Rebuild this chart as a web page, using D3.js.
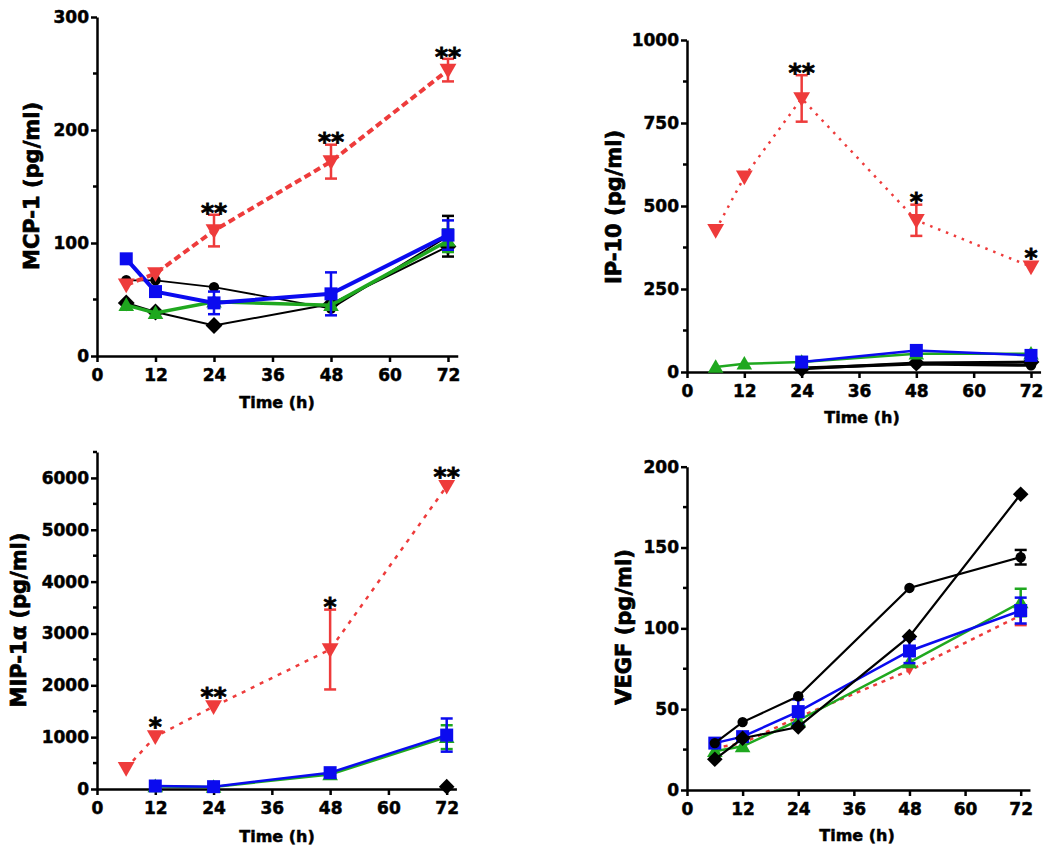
<!DOCTYPE html>
<html><head><meta charset="utf-8">
<script src="https://cdn.jsdelivr.net/npm/d3@7"></script>
<style>
body{margin:0;background:#fff;}
text{font-family:"DejaVu Sans",sans-serif;font-weight:bold;fill:#000;}
</style></head>
<body><svg id="c" width="1050" height="852"></svg>
<script>
const times = [6, 12, 24, 48, 72];
const xTicks = [0, 12, 24, 36, 48, 60, 72];

// MCP-1
const mcpRed = [63, 73, 111, 172, 253];
const mcpRedErr = [0, 0, 14, 15, 10];
const mcpRedStars = ["", "", "**", "**", "**"];
const mcpBlue = [86, 57, 47, 55, 107];
const mcpBlueErr = [0, 0, 10, 19, 13];
const mcpGreen = [45, 38, 48, 45, 102];
const mcpGreenErr = [0, 0, 0, 0, 10];
const mcpBlackA = [47, 39, 27, 46, 97];
const mcpBlackB = [67, 67, 61, 42, 106];
const mcpBlackBErr = [0, 0, 0, 0, 18];
const mcpTicks = [0, 100, 200, 300];

// IP-10
const ipRed = [427, 588, 824, 457, 317];
const ipRedErr = [0, 0, 70, 47, 0];
const ipRedStars = ["", "", "**", "*", "*"];
const ipGreen = [15, 25, 30, 55, 55];
const ipBlue = [null, null, 30, 65, 50];
const ipBlackA = [null, null, 10, 27, 30];
const ipBlackB = [null, null, 12, 24, 20];
const ipTicks = [0, 250, 500, 750, 1000];

// MIP-1alpha
const mipRed = [400, 1010, 1590, 2690, 5840];
const mipRedErr = [0, 0, 0, 770, 0];
const mipRedStars = ["", "*", "**", "*", "**"];
const mipBlue = [null, 58, 45, 315, 1040];
const mipBlueErr = [0, 0, 0, 0, 320];
const mipGreen = [null, 50, 40, 280, 1000];
const mipGreenErr = [0, 0, 0, 0, 230];
const mipBlack = [null, null, null, null, 45];
const mipTicks = [0, 1000, 2000, 3000, 4000, 5000, 6000];

// VEGF
const vegfRed = [26, 29, 45, 74, 108];
const vegfRedErr = [0, 0, 0, 0, 6];
const vegfGreen = [24, 27, 43, 79, 116];
const vegfGreenErr = [0, 0, 0, 0, 8.5];
const vegfBlue = [29, 33, 48.5, 86, 111];
const vegfBlueErr = [0, 0, 7.5, 7.5, 8];
const vegfBlackA = [19, 32, 39, 95, 183];
const vegfBlackB = [29, 42, 58, 125, 144];
const vegfBlackBErr = [0, 0, 0, 0, 4.5];
const vegfTicks = [0, 50, 100, 150, 200];

const RED = "#EE3B3B", BLUE = "#0B0BEF", GREEN = "#1FA81F", BLACK = "#000";

const svg = d3.select("#c");

function markerPath(kind, s) {
  if (kind === "square") return d3.symbol(d3.symbolSquare, s * s)();
  if (kind === "triUp") return `M0,${-s*0.6}L${s*0.6},${s*0.45}L${-s*0.6},${s*0.45}Z`;
  if (kind === "triDown") return `M0,${s*0.6}L${s*0.6},${-s*0.45}L${-s*0.6},${-s*0.45}Z`;
  if (kind === "diamond") return `M0,${-s*0.65}L${s*0.65},0L0,${s*0.65}L${-s*0.65},0Z`;
  if (kind === "circle") return d3.symbol(d3.symbolCircle, s * s * 0.7)();
}

function boldify(sel, w) {
  sel.attr("stroke", "#000").attr("stroke-width", w).attr("paint-order", "stroke");
}

function drawPanel(p) {
  const x = d3.scaleLinear().domain([0, 74]).range([p.x0, p.x0 + (p.x72 - p.x0) * 74 / 72]);
  const y = d3.scaleLinear().domain([0, p.ymax]).range([p.y0, p.yTop]);
  const g = svg.append("g");

  const ya = d3.axisLeft(y).tickValues(p.yTicks).tickSize(6).tickSizeOuter(0).tickPadding(2)
    .tickFormat(d3.format("d"));
  const yg = g.append("g").attr("transform", `translate(${p.x0},0)`).call(ya);
  const xa = d3.axisBottom(x).tickValues(xTicks).tickSize(6).tickSizeOuter(0).tickPadding(7);
  const xg = g.append("g").attr("transform", `translate(0,${p.y0})`).call(xa);
  [yg, xg].forEach(a => {
    a.select(".domain").attr("stroke", "#000").attr("stroke-width", 2.5);
    a.selectAll(".tick line").attr("stroke", "#000").attr("stroke-width", 2.5);
    const t = a.selectAll("text").attr("font-size", 17).attr("font-family", "DejaVu Sans")
      .attr("font-weight", "bold").attr("fill", "#000");
    boldify(t, 0.5);
  });
  g.append("g").selectAll("line").data(p.minor).join("line")
    .attr("x1", p.x0 - 4).attr("x2", p.x0).attr("y1", d => y(d)).attr("y2", d => y(d))
    .attr("stroke", "#000").attr("stroke-width", 2.5);

  const yt = g.append("text").attr("transform", `translate(${p.ytx},${p.yty}) rotate(-90)`)
    .attr("text-anchor", "middle").attr("dy", "0.36em").attr("font-size", 21).text(p.yTitle);
  boldify(yt, 0.7);
  const xt = g.append("text").attr("x", p.xtx).attr("y", p.xty).attr("text-anchor", "middle")
    .attr("dy", "0.36em").attr("font-size", 16).text("Time (h)");
  boldify(xt, 0.5);

  p.series.forEach(s => {
    const pts = times.map((t, i) => ({t, v: s.values[i], e: s.err ? s.err[i] : 0, star: s.stars ? s.stars[i] : ""}))
      .filter(d => d.v != null);
    const line = d3.line().x(d => x(d.t)).y(d => y(d.v));
    g.append("path").datum(pts).attr("d", line).attr("fill", "none")
      .attr("stroke", s.color).attr("stroke-width", s.width)
      .attr("stroke-dasharray", s.dash || null);
    const eb = pts.filter(d => d.e > 0);
    const eg = g.append("g").attr("stroke", s.color).attr("stroke-width", s.ebw || 2.5);
    eg.selectAll("line.v").data(eb).join("line").attr("class", "v")
      .attr("x1", d => x(d.t)).attr("x2", d => x(d.t)).attr("y1", d => y(d.v - d.e)).attr("y2", d => y(d.v + d.e));
    eg.selectAll("line.t").data(eb).join("line").attr("class", "t")
      .attr("x1", d => x(d.t) - 6).attr("x2", d => x(d.t) + 6).attr("y1", d => y(d.v + d.e)).attr("y2", d => y(d.v + d.e));
    eg.selectAll("line.b").data(eb).join("line").attr("class", "b")
      .attr("x1", d => x(d.t) - 6).attr("x2", d => x(d.t) + 6).attr("y1", d => y(d.v - d.e)).attr("y2", d => y(d.v - d.e));
    g.append("g").selectAll("path").data(pts).join("path")
      .attr("transform", d => `translate(${x(d.t)},${y(d.v)})`)
      .attr("d", markerPath(s.marker, s.size)).attr("fill", s.color);
    const st = g.append("g").selectAll("text").data(pts.filter(d => d.star)).join("text")
      .attr("x", d => x(d.t)).attr("y", d => Math.min(y(d.v + d.e), y(d.v) - s.size * 0.5) - 13)
      .attr("dy", "0.75em").attr("text-anchor", "middle").attr("font-size", 25).text(d => d.star);
    boldify(st, 0.8);
  });
}

drawPanel({
  x0: 97, x72: 448, y0: 356, yTop: 17, ymax: 300, yTicks: mcpTicks, minor: [50, 150, 250],
  yTitle: "MCP-1 (pg/ml)", ytx: 31, yty: 186, xtx: 277, xty: 402,
  series: [
    {values: mcpBlackB, err: mcpBlackBErr, color: BLACK, width: 1.8, marker: "circle", size: 11},
    {values: mcpBlackA, color: BLACK, width: 2, marker: "diamond", size: 13},
    {values: mcpGreen, err: mcpGreenErr, color: GREEN, width: 3.5, marker: "triUp", size: 13},
    {values: mcpBlue, err: mcpBlueErr, color: BLUE, width: 4, marker: "square", size: 13},
    {values: mcpRed, err: mcpRedErr, stars: mcpRedStars, color: RED, width: 4, dash: "7,4", marker: "triDown", size: 14}
  ]
});

drawPanel({
  x0: 687, x72: 1031, y0: 372, yTop: 40, ymax: 1000, yTicks: ipTicks, minor: [125, 375, 625, 875],
  yTitle: "IP-10 (pg/ml)", ytx: 613, yty: 207, xtx: 862, xty: 417,
  series: [
    {values: ipBlackB, color: BLACK, width: 3, marker: "circle", size: 11},
    {values: ipBlackA, color: BLACK, width: 3, marker: "diamond", size: 13},
    {values: ipGreen, color: GREEN, width: 2.5, marker: "triUp", size: 13},
    {values: ipBlue, color: BLUE, width: 2.5, marker: "square", size: 13},
    {values: ipRed, err: ipRedErr, stars: ipRedStars, color: RED, width: 2.5, dash: "2.5,6", marker: "triDown", size: 14}
  ]
});

drawPanel({
  x0: 97, x72: 446.7, y0: 789, yTop: 452, ymax: 6500, yTicks: mipTicks,
  minor: [500, 1500, 2500, 3500, 4500, 5500, 6500],
  yTitle: "MIP-1\u03B1 (pg/ml)", ytx: 18, yty: 620, xtx: 277, xty: 836,
  series: [
    {values: mipBlack, color: BLACK, width: 2, marker: "diamond", size: 12},
    {values: mipGreen, err: mipGreenErr, color: GREEN, width: 2.5, marker: "triUp", size: 13},
    {values: mipBlue, err: mipBlueErr, color: BLUE, width: 2.5, marker: "square", size: 13},
    {values: mipRed, err: mipRedErr, stars: mipRedStars, color: RED, width: 2.5, dash: "4,6", marker: "triDown", size: 14}
  ]
});

drawPanel({
  x0: 687, x72: 1020.7, y0: 790, yTop: 466.7, ymax: 200, yTicks: vegfTicks, minor: [25, 75, 125, 175],
  yTitle: "VEGF (pg/ml)", ytx: 623, yty: 627, xtx: 857, xty: 835,
  series: [
    {values: vegfRed, err: vegfRedErr, color: RED, width: 2.5, dash: "4,5", marker: "triDown", size: 8},
    {values: vegfGreen, err: vegfGreenErr, color: GREEN, width: 2.5, marker: "triUp", size: 13},
    {values: vegfBlue, err: vegfBlueErr, color: BLUE, width: 2.5, marker: "square", size: 13},
    {values: vegfBlackB, err: vegfBlackBErr, color: BLACK, width: 2.2, marker: "circle", size: 11},
    {values: vegfBlackA, color: BLACK, width: 2.2, marker: "diamond", size: 12}
  ]
});
</script></body></html>
